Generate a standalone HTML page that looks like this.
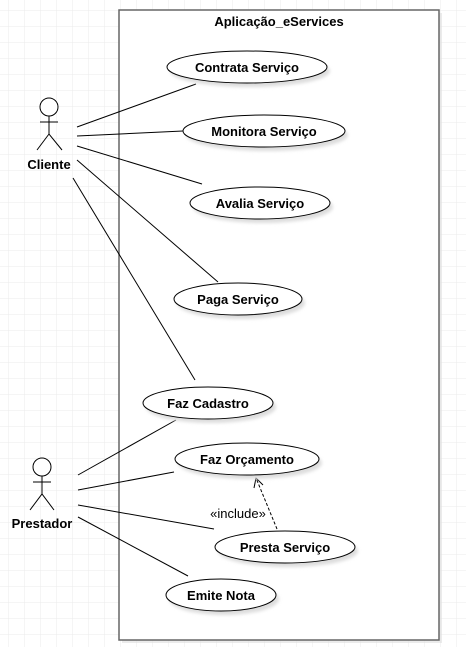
<!DOCTYPE html>
<html><head><meta charset="utf-8"><style>
html,body{margin:0;padding:0;background:#fff}
svg{display:block}
text{font-family:"Liberation Sans",sans-serif;font-size:13px;font-weight:bold;fill:#000}
</style></head><body>
<svg width="466" height="647" viewBox="0 0 466 647" xmlns="http://www.w3.org/2000/svg">
<defs>
<pattern id="g" width="16" height="16" patternUnits="userSpaceOnUse" x="8" y="10">
<path d="M0 0H16M0 0V16" stroke="#ebebeb" stroke-width="1" fill="none"/>
</pattern>
<filter id="sh" x="-20%" y="-20%" width="150%" height="160%"><feGaussianBlur stdDeviation="1.5"/></filter>
</defs>
<rect width="466" height="647" fill="url(#g)"/>
<rect x="122" y="13" width="320" height="630" fill="#ddd" opacity="0.6"/>
<rect x="119" y="10" width="320" height="630" fill="#fff" stroke="#666" stroke-width="1.5"/>
<text x="279" y="26" text-anchor="middle">Aplicação_eServices</text>

<g stroke="#000" stroke-width="1" fill="none">
<line x1="77" y1="127" x2="196" y2="84"/>
<line x1="77" y1="136" x2="183" y2="131"/>
<line x1="77" y1="146" x2="202" y2="184"/>
<line x1="77" y1="160" x2="218" y2="282"/>
<line x1="73" y1="178" x2="195" y2="380"/>
<line x1="78" y1="475" x2="176" y2="420"/>
<line x1="78" y1="490" x2="174" y2="472"/>
<line x1="78" y1="505" x2="214" y2="529"/>
<line x1="78" y1="517" x2="188" y2="576"/>
<line x1="277" y1="529" x2="256" y2="478" stroke-dasharray="3,2"/>
<polyline points="254,488 256,478 263,485"/>
</g>
<text x="238" y="518" text-anchor="middle" style="font-weight:normal">«include»</text>

<g>
<g fill="#ddd" filter="url(#sh)">
<ellipse cx="250" cy="71" rx="80" ry="16"/>
<ellipse cx="267" cy="135" rx="81" ry="16"/>
<ellipse cx="263" cy="207" rx="70" ry="16"/>
<ellipse cx="241" cy="303" rx="64" ry="16"/>
<ellipse cx="211" cy="407" rx="65" ry="16"/>
<ellipse cx="250" cy="463" rx="72" ry="16"/>
<ellipse cx="288" cy="551" rx="70" ry="16"/>
<ellipse cx="224" cy="599" rx="55" ry="16"/>
</g>
<g fill="#fff" stroke="#000" stroke-width="1">
<ellipse cx="247" cy="67" rx="80" ry="16"/>
<ellipse cx="264" cy="131" rx="81" ry="16"/>
<ellipse cx="260" cy="203" rx="70" ry="16"/>
<ellipse cx="238" cy="299" rx="64" ry="16"/>
<ellipse cx="208" cy="403" rx="65" ry="16"/>
<ellipse cx="247" cy="459" rx="72" ry="16"/>
<ellipse cx="285" cy="547" rx="70" ry="16"/>
<ellipse cx="221" cy="595" rx="55" ry="16"/>
</g>
</g>
<g text-anchor="middle">
<text x="247" y="72">Contrata Serviço</text>
<text x="264" y="136">Monitora Serviço</text>
<text x="260" y="208">Avalia Serviço</text>
<text x="238" y="304">Paga Serviço</text>
<text x="208" y="408">Faz Cadastro</text>
<text x="247" y="464">Faz Orçamento</text>
<text x="285" y="552">Presta Serviço</text>
<text x="221" y="600">Emite Nota</text>
</g>

<g stroke="#000" stroke-width="1" fill="#fff">
<circle cx="49" cy="107" r="9"/>
<line x1="49" y1="116" x2="49" y2="134"/>
<line x1="40" y1="122" x2="58" y2="122"/>
<polyline points="37,150 49,134 62,150" fill="none"/>
<circle cx="42" cy="467" r="9"/>
<line x1="42" y1="476" x2="42" y2="494"/>
<line x1="33" y1="482" x2="51" y2="482"/>
<polyline points="30,510 42,494 54,510" fill="none"/>
</g>
<text x="49" y="169" text-anchor="middle">Cliente</text>
<text x="42" y="528" text-anchor="middle">Prestador</text>
</svg>
</body></html>
